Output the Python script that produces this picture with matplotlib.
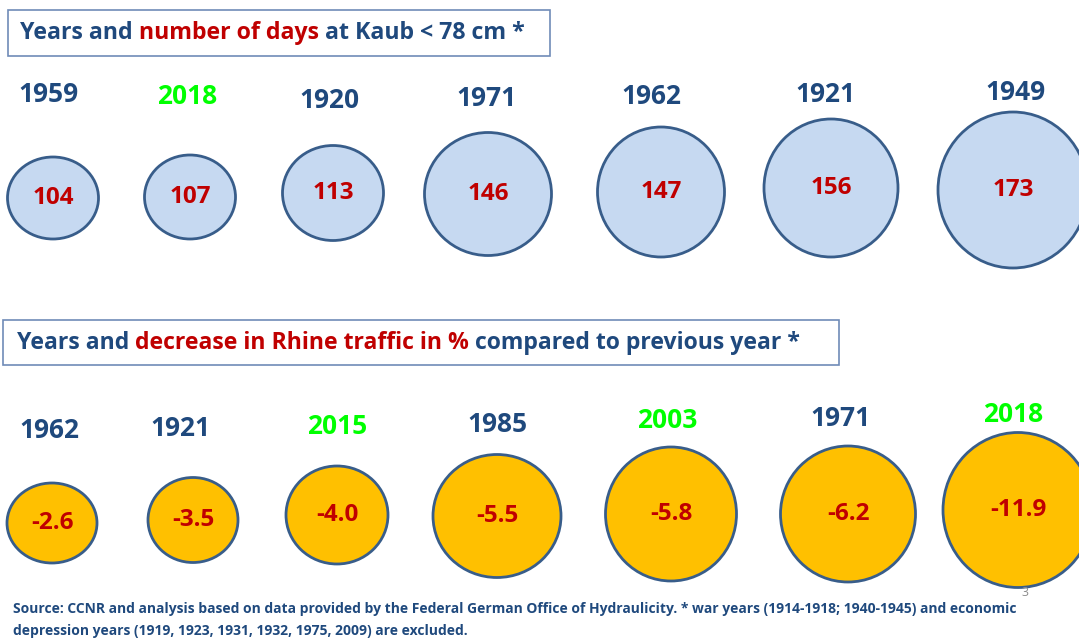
import matplotlib.pyplot as plt
import matplotlib.patches as patches

# --- data ---
days_years = ['1959', '2018', '1920', '1971', '1962', '1921', '1949']
days_values = [104, 107, 113, 146, 147, 156, 173]

traffic_years = ['1962', '1921', '2015', '1985', '2003', '1971', '2018']
traffic_values = [-2.6, -3.5, -4.0, -5.5, -5.8, -6.2, -11.9]

recent_years = ['2003', '2015', '2018']   # shown in green

# --- layout (pixels) ---
days_cx = [53, 190, 333, 488, 661, 831, 1013]
days_cy = [198, 197, 193, 194, 192, 188, 190]
days_w = [91, 91, 101, 127, 127, 134, 150]
days_h = [82, 84, 95, 123, 130, 138, 156]
days_label_x = [48, 187, 329, 486, 651, 825, 1015]
days_label_y = [95, 96, 100, 98, 96, 94, 93]

traffic_cx = [52, 193, 337, 497, 671, 848, 1018]
traffic_cy = [523, 520, 515, 516, 514, 514, 510]
traffic_w = [90, 90, 102, 128, 131, 135, 150]
traffic_h = [80, 85, 98, 123, 134, 136, 155]
traffic_label_x = [49, 180, 337, 497, 667, 840, 1013]
traffic_label_y = [430, 428, 427, 424, 421, 418, 414]

# Colors
dark_blue = '#1F497D'
red = '#C00000'
green = '#00FF00'
blue_fill = '#C6D9F1'
orange_fill = '#FFC000'
circle_edge = '#385D8A'
box_edge = '#6F8BB8'

FONT = ['Open Sans', 'DejaVu Sans']

fig = plt.figure(figsize=(10.79, 6.39), dpi=100)
ax = fig.add_axes([0, 0, 1, 1])
ax.set_xlim(0, 1079)
ax.set_ylim(639, 0)
ax.axis('off')
renderer = fig.canvas.get_renderer()


def rich_text(x, y, parts, size):
    # draw coloured pieces one after the other
    for s, c in parts:
        t = ax.text(x, y, s, color=c, fontsize=size, fontweight='bold',
                    family=FONT, ha='left', va='center')
        bb = t.get_window_extent(renderer)
        x = ax.transData.inverted().transform((bb.x1, bb.y0))[0]


def title_box(x0, y0, x1, y1):
    ax.add_patch(patches.Rectangle((x0, y0), x1 - x0, y1 - y0, fill=False,
                                   edgecolor=box_edge, linewidth=1.2))


def circle_row(years, values, cx, cy, w, h, lx, ly, fill, fmt):
    for i in range(len(years)):
        ax.add_patch(patches.Ellipse((cx[i], cy[i]), w[i], h[i], facecolor=fill,
                                     edgecolor=circle_edge, linewidth=2, clip_on=False))
        ax.text(cx[i], cy[i], fmt(values[i]), color=red, fontsize=17.5, fontweight='bold',
                family=FONT, ha='center', va='center')
        ycol = green if years[i] in recent_years else dark_blue
        ax.text(lx[i], ly[i], years[i], color=ycol, fontsize=19, fontweight='bold',
                family=FONT, ha='center', va='center')


# Top panel
title_box(8, 10, 550, 56)
rich_text(20, 33, [('Years and ', dark_blue), ('number of days', red),
                   (' at Kaub < 78 cm *', dark_blue)], 16.7)
circle_row(days_years, days_values, days_cx, days_cy, days_w, days_h,
           days_label_x, days_label_y, blue_fill, lambda v: f'{v}')

# Bottom panel
title_box(3, 320, 839, 365)
rich_text(17, 343, [('Years and ', dark_blue), ('decrease in Rhine traffic in %', red),
                    (' compared to previous year *', dark_blue)], 16.6)
circle_row(traffic_years, traffic_values, traffic_cx, traffic_cy, traffic_w, traffic_h,
           traffic_label_x, traffic_label_y, orange_fill, lambda v: f'{v:.1f}')

# Footer
ax.text(1025, 592, '3', color='#8C8C8C', fontsize=9, family=FONT, ha='center', va='center')
ax.text(13, 609, 'Source: CCNR and analysis based on data provided by the Federal German Office '
        'of Hydraulicity. * war years (1914-1918; 1940-1945) and economic',
        color=dark_blue, fontsize=10, fontweight='bold', family=FONT, ha='left', va='center')
ax.text(13, 631, 'depression years (1919, 1923, 1931, 1932, 1975, 2009) are excluded.',
        color=dark_blue, fontsize=10, fontweight='bold', family=FONT, ha='left', va='center')

fig.savefig('out.png', dpi=100)
